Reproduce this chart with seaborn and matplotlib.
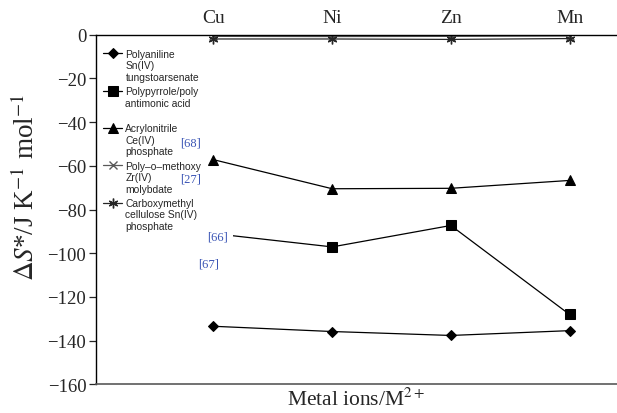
import numpy as np
import pandas as pd
import matplotlib
matplotlib.use("Agg")
import matplotlib.pyplot as plt
import seaborn as sns
from matplotlib.legend_handler import HandlerLine2D

# metal ions along the (top) x axis
metals = ["Cu", "Ni", "Zn", "Mn"]

# ΔS* values (J K^-1 mol^-1)
polyaniline = [-133.4, -135.8, -137.6, -135.4]
polypyrrole = [-91.0, -97.1, -87.3, -128.0]
acrylonitrile = [-57.2, -70.5, -70.3, -66.7]
poly_methoxy = [-0.8, -0.9, -0.8, -0.6]
carboxymethyl = [-2.0, -2.0, -2.2, -1.8]

series_labels = [
    "Polyaniline\nSn(IV)\ntungstoarsenate",
    "Polypyrrole/poly\nantimonic acid\n",
    "Acrylonitrile\nCe(IV)\nphosphate",
    "Poly\u2013o\u2013methoxy\nZr(IV)\nmolybdate",
    "Carboxymethyl\ncellulose Sn(IV)\nphosphate",
]
series_values = [polyaniline, polypyrrole, acrylonitrile, poly_methoxy, carboxymethyl]

# citation tags and where they sit (data coords)
ref_tags = ["[68]", "[27]", "[66]", "[67]"]
ref_x = [-0.19, -0.19, 0.03, -0.04]
ref_y = [-49.5, -66.0, -92.5, -104.8]

sns.set_style("ticks")
plt.rcParams["font.family"] = ["Liberation Serif", "DejaVu Serif"]
plt.rcParams["mathtext.fontset"] = "stix"

styles = [
    dict(marker="D", markersize=5, color="black"),
    dict(marker="s", markersize=6.5, color="black"),
    dict(marker="^", markersize=7, color="black"),
    dict(marker="x", markersize=6, color="0.35", markeredgewidth=1.0),
    dict(marker=(6, 2, 0), markersize=7, color="0.15", markeredgewidth=1.0),
]


class FirstLineHandler(HandlerLine2D):
    """Put the legend handle level with the first line of a 3-line label."""

    def create_artists(self, legend, orig_handle, xdescent, ydescent,
                       width, height, fontsize, trans):
        shift = 1.2 * fontsize
        return super().create_artists(legend, orig_handle, xdescent,
                                      ydescent - 2 * shift, width, height,
                                      fontsize, trans)


fig, ax = plt.subplots(figsize=(6.17, 4.14), dpi=100)
fig.subplots_adjust(left=0.1556, right=1.0, top=0.914, bottom=0.069)

x = np.arange(len(metals))
handles = []
for label, vals, st in zip(series_labels, series_values, styles):
    df = pd.DataFrame({"metal": x, "dS": vals})
    sns.lineplot(data=df, x="metal", y="dS", ax=ax, linewidth=0.9,
                 markeredgecolor=st["color"], errorbar=None, legend=False,
                 **st)
    handles.append(ax.lines[-1])

ax.set_xlim(-0.99, 3.40)
ax.set_ylim(-160, 0)
ax.set_yticks(np.arange(-160, 1, 20))
ax.set_xticks(x)
ax.set_xticklabels(metals)
ax.xaxis.tick_top()
ax.tick_params(axis="x", length=0, pad=6, labelsize=14)
ax.tick_params(axis="y", length=5, width=0.9, pad=2, labelsize=13.5)

for side in ["top", "left"]:
    ax.spines[side].set_color("black")
    ax.spines[side].set_linewidth(1.0)
ax.spines["bottom"].set_color("0.35")
ax.spines["bottom"].set_linewidth(1.2)
ax.spines["right"].set_visible(False)

ax.set_xlabel(r"Metal ions/M$^{2+}$", fontsize=15.5)
ax.xaxis.set_label_position("bottom")
ax.xaxis.labelpad = 2
ax.set_ylabel(r"$\Delta S$*/J K$^{-1}$ mol$^{-1}$", fontsize=19.5)
ax.yaxis.set_label_coords(-0.108, 0.565)

for tag, tx, ty in zip(ref_tags, ref_x, ref_y):
    box = None
    if tag == "[66]":
        # this tag sits over the start of the polypyrrole curve
        box = dict(facecolor="white", edgecolor="none", pad=4)
    ax.text(tx, ty, tag, color="#3b55b5", fontsize=9, ha="center",
            va="center", zorder=5, bbox=box)

ax.legend(handles, series_labels, loc="upper left",
          bbox_to_anchor=(0.013, 0.96), frameon=False, borderpad=0,
          borderaxespad=0, handlelength=1.9, handletextpad=0.3,
          labelspacing=0.4, numpoints=1,
          prop={"family": "Liberation Sans", "size": 7.4},
          handler_map={h: FirstLineHandler() for h in handles})

fig.savefig("out.png", dpi=100)
